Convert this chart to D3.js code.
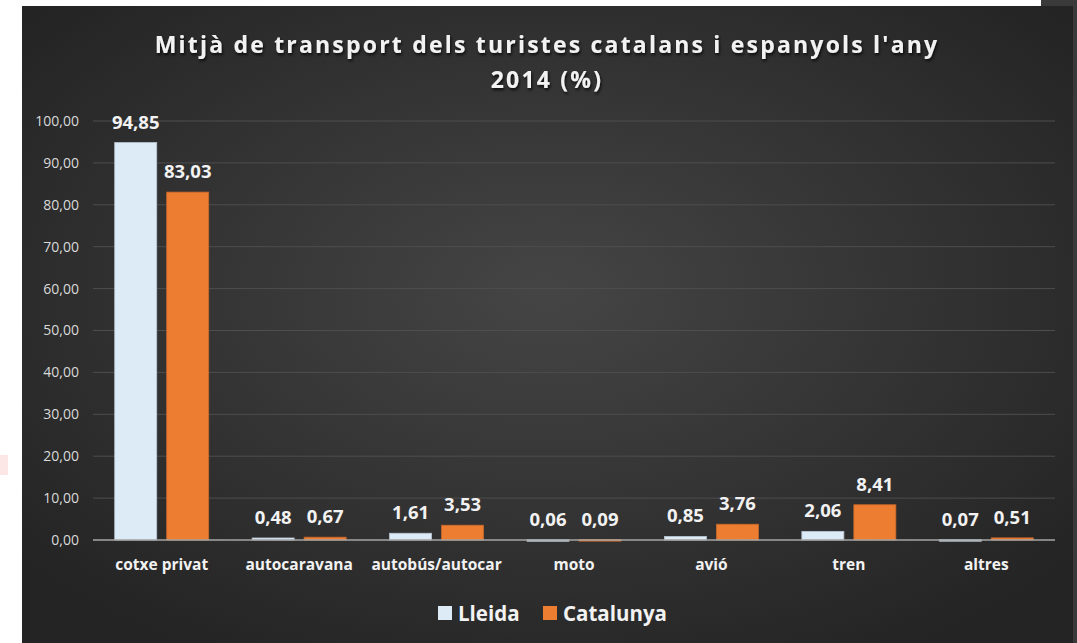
<!DOCTYPE html>
<html lang="ca">
<head>
<meta charset="utf-8" />
<title>Mitjà de transport</title>
<script src="https://cdn.jsdelivr.net/npm/d3@7"></script>
<style>
  html, body { margin: 0; background: #fff; overflow: hidden; }
  svg { display: block; }
</style>
</head>
<body>
<script>
// values
const categories = ["cotxe privat", "autocaravana", "autobús/autocar", "moto", "avió", "tren", "altres"];
const lleida    = [94.85, 0.48, 1.61, 0.06, 0.85, 2.06, 0.07];
const catalunya = [83.03, 0.67, 3.53, 0.09, 3.76, 8.41, 0.51];
const seriesNames = ["Lleida", "Catalunya"];
const yTicks = [0, 10, 20, 30, 40, 50, 60, 70, 80, 90, 100];
const titleLines = ["Mitjà de transport dels turistes catalans i espanyols l'any", "2014 (%)"];

const W = 1077, H = 643;
const colors = ["#DDEBF7", "#ED7D31"];
const fmt = v => v.toFixed(2).replace(".", ",");

const svg = d3.select("body").append("svg").attr("width", W).attr("height", H);
const defs = svg.append("defs");

const grad = defs.append("radialGradient").attr("id", "bg")
  .attr("cx", "50%").attr("cy", "45%").attr("r", "65%");
grad.append("stop").attr("offset", "0%").attr("stop-color", "#454545");
grad.append("stop").attr("offset", "100%").attr("stop-color", "#242424");

const shadow = defs.append("filter").attr("id", "shadow");
shadow.append("feDropShadow").attr("dx", 1).attr("dy", 2).attr("stdDeviation", 1.5)
  .attr("flood-color", "#000").attr("flood-opacity", 0.8);

// surroundings of the screenshot
svg.append("rect").attr("x", 1041).attr("y", 0).attr("width", 36).attr("height", H).attr("fill", "#3a3a3a");
svg.append("rect").attr("x", 0).attr("y", 455).attr("width", 8).attr("height", 20).attr("fill", "#fde6e6");

// chart panel
svg.append("rect").attr("x", 22).attr("y", 6).attr("width", 1051).attr("height", H - 6)
  .attr("fill", "url(#bg)");

const margin = { left: 93, right: 1055, top: 121, bottom: 540 };

const y = d3.scaleLinear().domain([0, 100]).range([margin.bottom, margin.top]);
const x0 = d3.scaleBand().domain(categories).range([margin.left, margin.right])
  .paddingInner(0.316).paddingOuter(0.158);
const x1 = d3.scaleBand().domain(seriesNames).range([0, x0.bandwidth()]).paddingInner(0.192);

// grid
svg.append("g").selectAll("line").data(yTicks.slice(1)).join("line")
  .attr("x1", margin.left).attr("x2", margin.right)
  .attr("y1", d => y(d)).attr("y2", d => y(d))
  .attr("stroke", "#4e4e4e").attr("stroke-width", 1);

// y axis labels
const yAxis = svg.append("g").attr("transform", `translate(${margin.left},0)`)
  .call(d3.axisLeft(y).tickValues(yTicks).tickFormat(fmt).tickSize(0).tickPadding(14));
yAxis.select(".domain").remove();
yAxis.selectAll("text").attr("fill", "#d9d9d9")
  .style("font-family", "'Open Sans', sans-serif").style("font-size", "14px");

// bars
const data = categories.map((c, i) => ({ cat: c, vals: [lleida[i], catalunya[i]] }));
const groups = svg.append("g").selectAll("g").data(data).join("g")
  .attr("transform", d => `translate(${x0(d.cat)},0)`);

groups.selectAll("rect").data(d => d.vals.map((v, j) => ({ v, j }))).join("rect")
  .attr("x", d => x1(seriesNames[d.j]))
  .attr("y", d => y(d.v))
  .attr("width", x1.bandwidth())
  .attr("height", d => Math.max(y(0) - y(d.v), 1.5))
  .attr("fill", d => colors[d.j])
  .attr("stroke", d => d.j === 0 ? "#b8c6d2" : "#c9682a").attr("stroke-width", 0.8);

groups.selectAll("text").data(d => d.vals.map((v, j) => ({ v, j }))).join("text")
  .attr("x", d => x1(seriesNames[d.j]) + x1.bandwidth() / 2)
  .attr("y", d => y(d.v) - 14)
  .attr("text-anchor", "middle")
  .attr("fill", "#f2f2f2")
  .style("font-family", "'Open Sans', sans-serif").style("font-weight", "bold").style("font-size", "18.5px")
  .text(d => fmt(d.v));

// baseline
svg.append("line").attr("x1", margin.left).attr("x2", margin.right)
  .attr("y1", y(0)).attr("y2", y(0)).attr("stroke", "#a6a6a6").attr("stroke-width", 1.5);

// x axis labels
const xAxis = svg.append("g").attr("transform", `translate(0,${margin.bottom})`)
  .call(d3.axisBottom(x0).tickSize(0).tickPadding(19));
xAxis.select(".domain").remove();
xAxis.selectAll("text").attr("fill", "#f2f2f2")
  .style("font-family", "'Open Sans', sans-serif").style("font-weight", "bold").style("font-size", "15.5px");

// title
svg.append("g").selectAll("text").data(titleLines).join("text")
  .attr("x", 547).attr("y", (d, i) => 53 + i * 35)
  .attr("text-anchor", "middle")
  .attr("fill", "#f2f2f2").attr("filter", "url(#shadow)")
  .style("font-family", "'Open Sans', sans-serif").style("font-weight", "bold")
  .style("font-size", "23px").style("letter-spacing", "2.2px")
  .text(d => d);

// legend
const legendX = [438, 543];
const legend = svg.append("g").selectAll("g").data(seriesNames).join("g")
  .attr("transform", (d, i) => `translate(${legendX[i]},606)`);
legend.append("rect").attr("width", 14).attr("height", 14).attr("fill", (d, i) => colors[i]);
legend.append("text").attr("x", 20).attr("y", 15)
  .attr("fill", "#f2f2f2")
  .style("font-family", "'Open Sans', sans-serif").style("font-weight", "bold").style("font-size", "20.5px")
  .text(d => d);
</script>
</body>
</html>
